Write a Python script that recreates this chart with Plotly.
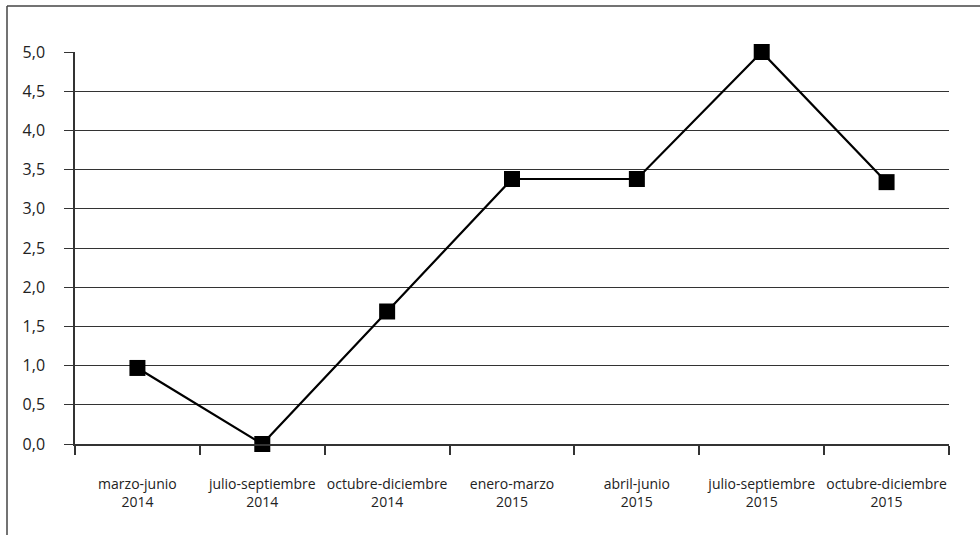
import plotly.graph_objects as go

categories = ["marzo-junio<br>2014", "julio-septiembre<br>2014", "octubre-diciembre<br>2014",
              "enero-marzo<br>2015", "abril-junio<br>2015", "julio-septiembre<br>2015",
              "octubre-diciembre<br>2015"]
values = [0.97, 0.0, 1.69, 3.38, 3.38, 5.0, 3.34]
y_ticks = [0, 0.5, 1, 1.5, 2, 2.5, 3, 3.5, 4, 4.5, 5]
y_labels = ["0,0", "0,5", "1,0", "1,5", "2,0", "2,5", "3,0", "3,5", "4,0", "4,5", "5,0"]

W, H = 980, 535
L, T = 75, 52
pw, ph = 874, 392
R = W - L - pw
B = H - T - ph

fig = go.Figure()
fig.add_trace(go.Scatter(
    x=categories, y=values, mode="lines+markers",
    line=dict(color="#000000", width=2.2),
    marker=dict(symbol="square", size=16, color="#000000"),
    cliponaxis=False, showlegend=False,
))

bx0 = (7 - L) / pw
bx1 = (W + 5 - L) / pw
by0 = -(H + 5 - (T + ph)) / ph
by1 = 1 + (T - 6) / ph
border = dict(color="#444444", width=1.5)

fig.update_layout(
    width=W, height=H,
    margin=dict(l=L, r=R, t=T, b=B, autoexpand=False),
    paper_bgcolor="white", plot_bgcolor="white",
    font=dict(family="Open Sans, Noto Sans, sans-serif", size=14, color="#222222"),
    xaxis=dict(
        type="category", showgrid=False, showline=True, linecolor="#333333", linewidth=1.5,
        ticks="outside", tickson="boundaries", ticklen=9, tickcolor="#333333", tickwidth=1.5,
        tickfont=dict(size=14), range=[-0.5, 6.5], zeroline=False, ticklabelstandoff=26,
        tickangle=0, automargin=False,
    ),
    yaxis=dict(
        range=[0, 5], tickvals=y_ticks, ticktext=y_labels,
        showgrid=True, gridcolor="#333333", gridwidth=1.3,
        showline=True, linecolor="#333333", linewidth=1.5,
        ticks="outside", ticklen=9, tickcolor="#333333", tickwidth=1.3,
        tickfont=dict(size=16), zeroline=False, ticklabelstandoff=16, automargin=False,
    ),
    shapes=[
        dict(type="line", xref="paper", yref="paper", x0=bx0, x1=bx1, y0=by1, y1=by1, line=border),
        dict(type="line", xref="paper", yref="paper", x0=bx0, x1=bx0, y0=by0, y1=by1, line=border),
    ],
)

fig.write_html("out.html", config={"displayModeBar": False},
               post_script="document.body.style.margin='0px';")
